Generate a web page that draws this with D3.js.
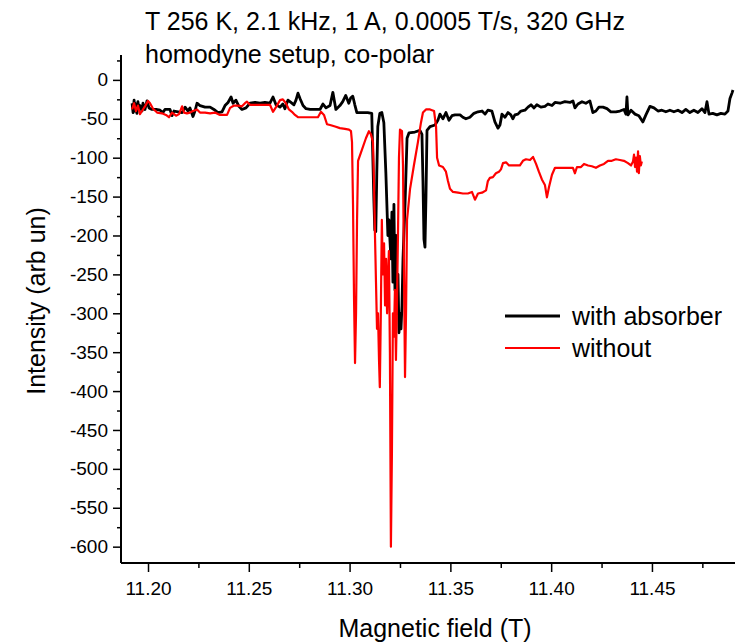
<!DOCTYPE html>
<html>
<head>
<meta charset="utf-8">
<script src="https://cdn.jsdelivr.net/npm/d3@7"></script>
<style>
html, body { margin: 0; padding: 0; background: #fff; }
svg { display: block; font-family: "Liberation Sans", Arial, sans-serif; }
</style>
</head>
<body>
<svg id="chart" width="735" height="642"></svg>
<script>
// ---------- data ----------
const titleLines = ["T 256 K, 2.1 kHz, 1 A, 0.0005 T/s, 320 GHz", "homodyne setup, co-polar"];
const xLabel = "Magnetic field (T)";
const yLabel = "Intensity (arb un)";
const seriesNames = ["with absorber", "without"];
const seriesColors = ["#000000", "#ff0000"];
const xTicks = [11.20, 11.25, 11.30, 11.35, 11.40, 11.45];
const xMinorTicks = [11.225, 11.275, 11.325, 11.375, 11.425, 11.475];
const yTicks = [0, -50, -100, -150, -200, -250, -300, -350, -400, -450, -500, -550, -600];
const yMinorTicks = [25, -25, -75, -125, -175, -225, -275, -325, -375, -425, -475, -525, -575];

const absorberField = [11.1921,11.1926,11.1931,11.1936,11.1940,11.1945,11.1950,11.1955,11.1960,11.1970,11.1975,11.1985,11.1995,11.2005,11.2020,11.2040,11.2060,11.2074,11.2084,11.2109,11.2119,11.2129,11.2149,11.2169,11.2184,11.2198,11.2208,11.2223,11.2233,11.2243,11.2258,11.2283,11.2308,11.2327,11.2347,11.2367,11.2382,11.2397,11.2412,11.2422,11.2436,11.2451,11.2466,11.2486,11.2506,11.2531,11.2556,11.2580,11.2605,11.2620,11.2635,11.2655,11.2669,11.2679,11.2694,11.2709,11.2724,11.2734,11.2744,11.2754,11.2769,11.2784,11.2804,11.2828,11.2853,11.2868,11.2883,11.2903,11.2917,11.2932,11.2952,11.2966,11.2981,11.2996,11.3006,11.3016,11.3026,11.3036,11.3061,11.3090,11.3110,11.3120,11.3125,11.3130,11.3135,11.3140,11.3150,11.3160,11.3170,11.3180,11.3190,11.3195,11.3205,11.3210,11.3215,11.3220,11.3225,11.3230,11.3235,11.3240,11.3245,11.3250,11.3255,11.3260,11.3265,11.3275,11.3285,11.3295,11.3324,11.3349,11.3359,11.3364,11.3369,11.3374,11.3379,11.3384,11.3399,11.3424,11.3438,11.3448,11.3463,11.3478,11.3493,11.3508,11.3523,11.3548,11.3562,11.3577,11.3597,11.3617,11.3637,11.3657,11.3672,11.3686,11.3706,11.3721,11.3736,11.3746,11.3756,11.3771,11.3786,11.3800,11.3810,11.3820,11.3835,11.3850,11.3870,11.3885,11.3900,11.3915,11.3929,11.3949,11.3969,11.3984,11.4004,11.4019,11.4044,11.4068,11.4093,11.4108,11.4118,11.4133,11.4153,11.4172,11.4192,11.4207,11.4222,11.4237,11.4257,11.4277,11.4296,11.4321,11.4341,11.4361,11.4371,11.4376,11.4381,11.4396,11.4416,11.4435,11.4455,11.4470,11.4490,11.4510,11.4530,11.4549,11.4569,11.4589,11.4609,11.4629,11.4649,11.4668,11.4688,11.4708,11.4728,11.4748,11.4763,11.4773,11.4783,11.4802,11.4822,11.4842,11.4862,11.4877,11.4887,11.4897,11.4902];
const absorberIntensity = [-30,-42,-26,-40,-31,-43,-28,-37,-33,-40,-30,-38,-27,-36,-38,-38,-39,-42,-38,-38,-46,-40,-41,-42,-35,-40,-36,-47,-40,-30,-33,-35,-35,-38,-42,-41,-33,-29,-22,-30,-26,-34,-38,-36,-30,-29,-30,-29,-30,-22,-32,-35,-31,-37,-26,-29,-32,-26,-17,-24,-33,-37,-38,-38,-38,-31,-36,-33,-16,-38,-33,-28,-20,-30,-23,-21,-32,-42,-42,-42,-43,-150,-193,-195,-120,-60,-43,-42,-55,-120,-200,-180,-230,-170,-260,-160,-270,-200,-300,-250,-325,-300,-320,-290,-230,-160,-75,-68,-67,-65,-70,-130,-205,-215,-150,-65,-60,-58,-52,-44,-50,-42,-52,-46,-45,-45,-48,-50,-48,-43,-41,-40,-44,-39,-40,-54,-62,-58,-44,-48,-42,-45,-50,-45,-44,-40,-39,-35,-32,-36,-32,-35,-34,-31,-33,-29,-30,-28,-29,-27,-36,-31,-28,-30,-27,-42,-40,-35,-35,-37,-41,-41,-40,-38,-44,-22,-45,-39,-44,-46,-54,-45,-34,-36,-40,-39,-41,-39,-41,-39,-42,-38,-42,-39,-42,-37,-42,-28,-44,-43,-45,-43,-44,-40,-24,-17,-13];

const withoutField = [11.1921,11.1931,11.1940,11.1950,11.1960,11.1970,11.1985,11.2000,11.2010,11.2025,11.2045,11.2069,11.2089,11.2104,11.2119,11.2139,11.2154,11.2169,11.2179,11.2193,11.2208,11.2223,11.2243,11.2258,11.2283,11.2308,11.2332,11.2357,11.2377,11.2392,11.2407,11.2427,11.2446,11.2466,11.2481,11.2491,11.2506,11.2531,11.2556,11.2580,11.2605,11.2620,11.2635,11.2655,11.2669,11.2684,11.2699,11.2714,11.2729,11.2744,11.2779,11.2813,11.2843,11.2858,11.2873,11.2888,11.2903,11.2928,11.2952,11.2977,11.2997,11.3007,11.3012,11.3017,11.3022,11.3027,11.3032,11.3037,11.3042,11.3061,11.3081,11.3096,11.3106,11.3116,11.3121,11.3126,11.3131,11.3136,11.3141,11.3146,11.3150,11.3155,11.3160,11.3165,11.3171,11.3176,11.3181,11.3186,11.3190,11.3195,11.3200,11.3205,11.3210,11.3215,11.3220,11.3225,11.3230,11.3235,11.3240,11.3245,11.3250,11.3260,11.3265,11.3270,11.3275,11.3280,11.3285,11.3300,11.3319,11.3339,11.3354,11.3364,11.3379,11.3399,11.3419,11.3429,11.3434,11.3444,11.3463,11.3478,11.3488,11.3498,11.3513,11.3538,11.3562,11.3587,11.3607,11.3622,11.3637,11.3657,11.3677,11.3686,11.3696,11.3711,11.3726,11.3741,11.3751,11.3761,11.3776,11.3791,11.3805,11.3825,11.3845,11.3860,11.3875,11.3895,11.3910,11.3925,11.3939,11.3954,11.3969,11.3979,11.3989,11.4004,11.4019,11.4044,11.4068,11.4093,11.4108,11.4118,11.4128,11.4148,11.4163,11.4183,11.4202,11.4222,11.4242,11.4262,11.4282,11.4301,11.4321,11.4341,11.4361,11.4381,11.4396,11.4406,11.4411,11.4416,11.4421,11.4426,11.4431,11.4435,11.4440,11.4445,11.4450];
const withoutIntensity = [-38,-30,-40,-33,-44,-40,-34,-27,-30,-37,-42,-43,-45,-48,-42,-46,-44,-34,-42,-43,-42,-40,-38,-42,-42,-43,-42,-45,-45,-45,-36,-33,-33,-34,-30,-28,-32,-32,-32,-32,-32,-41,-35,-26,-25,-30,-38,-41,-45,-48,-48,-48,-48,-41,-45,-57,-58,-60,-62,-63,-64,-66,-80,-160,-280,-364,-300,-180,-104,-90,-75,-66,-70,-80,-130,-200,-260,-320,-300,-360,-395,-300,-180,-250,-210,-290,-230,-300,-260,-220,-350,-600,-480,-300,-330,-270,-360,-290,-200,-100,-64,-66,-110,-250,-382,-300,-180,-140,-110,-80,-55,-42,-38,-38,-40,-60,-100,-110,-112,-118,-130,-140,-144,-145,-146,-146,-144,-154,-146,-145,-142,-130,-126,-125,-120,-118,-115,-107,-106,-110,-110,-110,-110,-104,-102,-103,-99,-108,-118,-128,-135,-151,-138,-122,-113,-113,-113,-113,-113,-120,-112,-112,-108,-110,-111,-113,-110,-108,-104,-104,-102,-103,-104,-107,-110,-105,-96,-112,-100,-118,-92,-120,-98,-110,-105];

// ---------- layout ----------
const svg = d3.select("#chart");
const x = d3.scaleLinear().domain([11.1866, 11.4912]).range([121, 735]);
const y = d3.scaleLinear().domain([-621, 32]).range([563, 55]);
const FONT = "'Liberation Sans', Arial, sans-serif";

// titles
svg.append("text").attr("x", 145).attr("y", 30).attr("font-size", 25).attr("fill", "#000").text(titleLines[0]);
svg.append("text").attr("x", 145).attr("y", 63).attr("font-size", 25).attr("fill", "#000").text(titleLines[1]);

// axes
const xAxis = d3.axisBottom(x).tickValues(xTicks).tickFormat(d3.format(".2f")).tickSize(9).tickPadding(10);
const xMinor = d3.axisBottom(x).tickValues(xMinorTicks).tickFormat("").tickSize(5);
const gx = svg.append("g").attr("transform", "translate(0,563)").call(xAxis);
svg.append("g").attr("transform", "translate(0,563)").call(xMinor).select(".domain").remove();
gx.select(".domain").attr("d", "M121,0H735").attr("stroke-width", 2);

const yAxis = d3.axisLeft(y).tickValues(yTicks).tickFormat(d => d).tickSize(8).tickPadding(5);
const yMinor = d3.axisLeft(y).tickValues(yMinorTicks).tickFormat("").tickSize(4);
const gy = svg.append("g").attr("transform", "translate(121,0)").call(yAxis);
svg.append("g").attr("transform", "translate(121,0)").call(yMinor).select(".domain").remove();
gy.select(".domain").attr("d", "M0,55V563").attr("stroke-width", 2);

svg.selectAll(".tick line").attr("stroke", "#000").attr("stroke-width", 1.5);
svg.selectAll(".tick text").attr("font-size", 19).attr("fill", "#000").attr("font-family", FONT);

// axis titles
svg.append("text").attr("x", 435).attr("y", 637).attr("text-anchor", "middle").attr("font-size", 25).text(xLabel);
svg.append("text").attr("transform", "translate(45,301) rotate(-90)").attr("text-anchor", "middle").attr("font-size", 25).text(yLabel);

// lines
const line = d3.line().x(d => x(d[0])).y(d => y(d[1]));
const absorber = absorberField.map((f, i) => [f, absorberIntensity[i]]);
const without = withoutField.map((f, i) => [f, withoutIntensity[i]]);

svg.append("path").datum(absorber).attr("d", line).attr("fill", "none")
  .attr("stroke", seriesColors[0]).attr("stroke-width", 2.8).attr("stroke-linejoin", "round");
svg.append("path").datum(without).attr("d", line).attr("fill", "none")
  .attr("stroke", seriesColors[1]).attr("stroke-width", 2.2).attr("stroke-linejoin", "round");

// legend
const legend = svg.append("g");
seriesNames.forEach((name, i) => {
  const ly = 316 + i * 32;
  legend.append("line").attr("x1", 505).attr("x2", 560).attr("y1", ly).attr("y2", ly)
    .attr("stroke", seriesColors[i]).attr("stroke-width", i === 0 ? 2.8 : 2.2);
  legend.append("text").attr("x", 572).attr("y", ly + 9).attr("font-size", 25).text(name);
});
</script>
</body>
</html>
